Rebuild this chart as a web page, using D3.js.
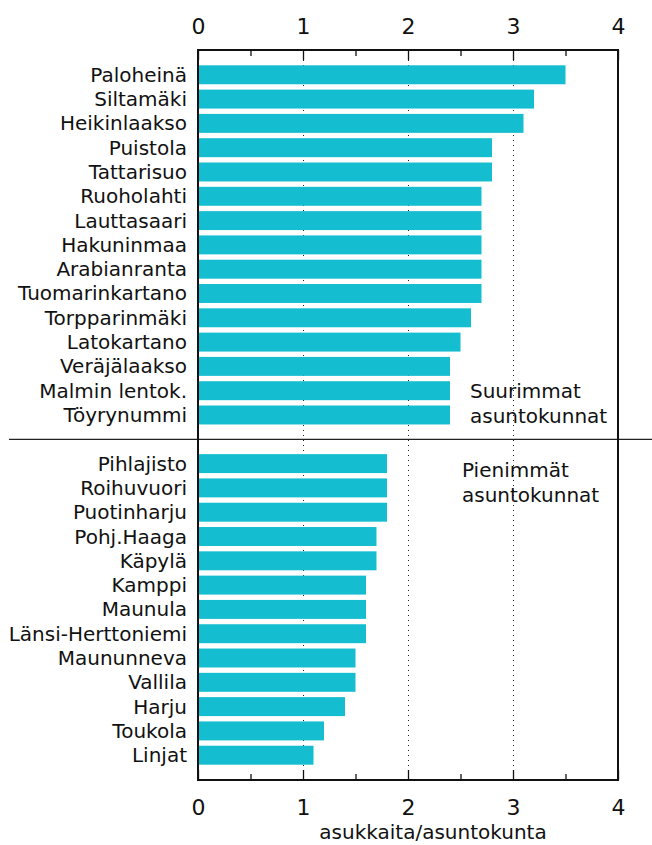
<!DOCTYPE html>
<html>
<head>
<meta charset="utf-8">
<script src="https://cdn.jsdelivr.net/npm/d3@7"></script>
<style>
  body { margin: 0; background: #fff; }
  text { font-family: "DejaVu Sans", sans-serif; fill: #111; }
</style>
</head>
<body>
<div id="chart"></div>
<script>
// largest households (top block)
const topNames = ["Paloheinä", "Siltamäki", "Heikinlaakso", "Puistola", "Tattarisuo",
  "Ruoholahti", "Lauttasaari", "Hakuninmaa", "Arabianranta", "Tuomarinkartano",
  "Torpparinmäki", "Latokartano", "Veräjälaakso", "Malmin lentok.", "Töyrynummi"];
const topValues = [3.5, 3.2, 3.1, 2.8, 2.8, 2.7, 2.7, 2.7, 2.7, 2.7, 2.6, 2.5, 2.4, 2.4, 2.4];

// smallest households (bottom block)
const bottomNames = ["Pihlajisto", "Roihuvuori", "Puotinharju", "Pohj.Haaga", "Käpylä",
  "Kamppi", "Maunula", "Länsi-Herttoniemi", "Maununneva", "Vallila", "Harju", "Toukola", "Linjat"];
const bottomValues = [1.8, 1.8, 1.8, 1.7, 1.7, 1.6, 1.6, 1.6, 1.5, 1.5, 1.4, 1.2, 1.1];

const majorTicks = [0, 1, 2, 3, 4];
const minorTicks = [0.5, 1.5, 2.5, 3.5];
const gridTicks = [1, 2, 3];
const axisTitle = "asukkaita/asuntokunta";
const topNote = ["Suurimmat", "asuntokunnat"];
const bottomNote = ["Pienimmät", "asuntokunnat"];

const GAP = "__gap";
const rows = topNames.map((n, i) => ({ name: n, value: topValues[i] }))
  .concat(bottomNames.map((n, i) => ({ name: n, value: bottomValues[i] })));

const W = 652, H = 845;
const m = { left: 198, right: 618, top: 50, bottom: 780 };

const svg = d3.select("#chart").append("svg")
  .attr("width", W)
  .attr("height", H);

const x = d3.scaleLinear().domain([0, 4]).range([m.left, m.right]);

const y = d3.scaleBand()
  .domain(topNames.concat([GAP], bottomNames))
  .range([m.top, m.bottom])
  .paddingInner(0.22)
  .paddingOuter(0.63);

// dotted grid lines under the bars
svg.append("g")
  .selectAll("line")
  .data(gridTicks)
  .join("line")
    .attr("x1", d => x(d) + 0.5)
    .attr("x2", d => x(d) + 0.5)
    .attr("y1", m.top)
    .attr("y2", m.bottom)
    .attr("stroke", "#222")
    .attr("stroke-width", 1)
    .attr("stroke-dasharray", "1,4");

// bars
svg.append("g")
  .selectAll("rect")
  .data(rows)
  .join("rect")
    .attr("x", x(0))
    .attr("y", d => y(d.name))
    .attr("width", d => x(d.value) - x(0))
    .attr("height", y.bandwidth())
    .attr("fill", "#15bdd0");

// category labels
svg.append("g")
  .selectAll("text")
  .data(rows)
  .join("text")
    .text(d => d.name)
    .attr("x", m.left - 11)
    .attr("y", d => y(d.name) + y.bandwidth() / 2)
    .attr("dy", "0.35em")
    .attr("text-anchor", "end")
    .style("font-size", "20px");

// separator between the two groups
const sepY = y(GAP) + y.bandwidth() / 2;
svg.append("line")
  .attr("x1", 9).attr("x2", W)
  .attr("y1", sepY).attr("y2", sepY)
  .attr("stroke", "#222")
  .attr("stroke-width", 1.2);

// axes: top and bottom, ticks pointing inward
const addAxis = (gen, ty, size, pad, vals, labels) => {
  const g = svg.append("g")
    .attr("transform", `translate(0,${ty})`)
    .call(gen(x).tickValues(vals).tickSize(size).tickPadding(pad)
      .tickFormat(labels ? d3.format("d") : ""));
  g.select(".domain").remove();
  g.selectAll(".tick line").attr("stroke", "#111").attr("stroke-width", 1.3);
  g.selectAll(".tick text")
    .style("font-family", "DejaVu Sans, sans-serif")
    .style("font-size", "22px")
    .attr("fill", "#111");
  return g;
};
addAxis(d3.axisTop, m.top, -10, 16, majorTicks, true);
addAxis(d3.axisTop, m.top, -6, 0, minorTicks, false);
addAxis(d3.axisBottom, m.bottom, -10, 19, majorTicks, true);
addAxis(d3.axisBottom, m.bottom, -6, 0, minorTicks, false);

// frame
svg.append("rect")
  .attr("x", m.left).attr("y", m.top)
  .attr("width", m.right - m.left).attr("height", m.bottom - m.top)
  .attr("fill", "none")
  .attr("stroke", "#111")
  .attr("stroke-width", 2);

// axis title
svg.append("text")
  .text(axisTitle)
  .attr("x", 433)
  .attr("y", 839)
  .attr("text-anchor", "middle")
  .style("font-size", "20px");

// group notes
const note = (lines, nx, ny) => {
  svg.append("text")
    .attr("x", nx).attr("y", ny)
    .style("font-size", "20px")
    .selectAll("tspan")
    .data(lines)
    .join("tspan")
      .attr("x", nx)
      .attr("dy", (d, i) => i === 0 ? 0 : 25)
      .text(d => d);
};
note(topNote, 470, 398);
note(bottomNote, 462, 477);
</script>
</body>
</html>
